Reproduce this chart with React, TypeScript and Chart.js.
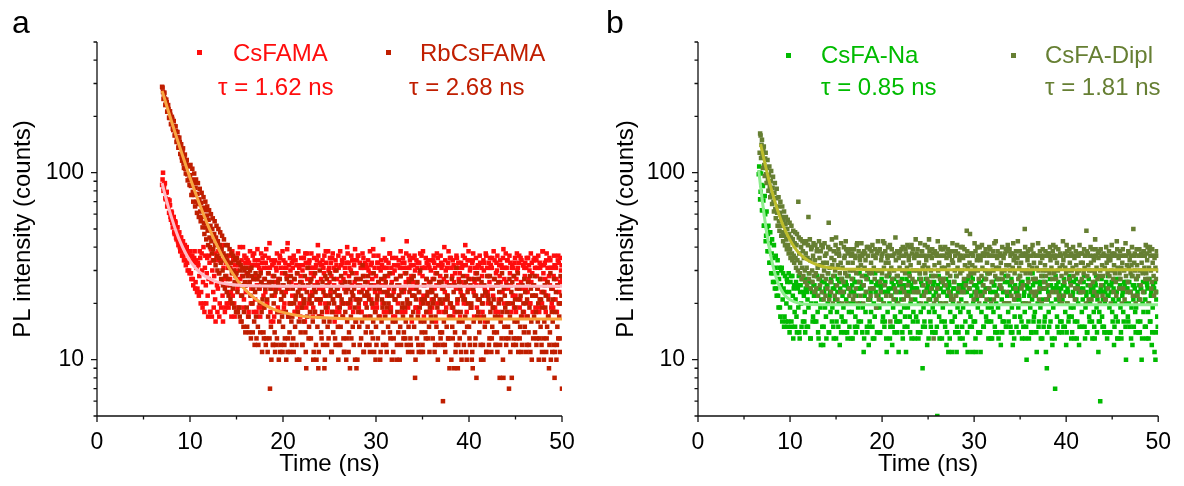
import React, { useEffect, useRef } from "react";
import { Chart, registerables } from "chart.js";

Chart.register(...registerables);

const FONT = "'Liberation Sans', Arial, Helvetica, sans-serif";

// ---------- data ----------
// Each trace is sampled every 0.05 ns; values are stored as two interleaved
// channel lists (even channels start at *_T0, odd channels at *_T0_ODD).
const DT = 0.1;
const CSFAMA_T0 = 7.0;
const CSFAMA_T0_ODD = 7.05;
const RBCSFAMA_T0 = 7.0;
const RBCSFAMA_T0_ODD = 7.05;
const CSFA_NA_T0 = 6.6;
const CSFA_NA_T0_ODD = 6.65;
const CSFA_DIPL_T0 = 6.7;
const CSFA_DIPL_T0_ODD = 6.75;

const CSFAMA = [
  86, 100, 83, 88, 72, 79, 70, 66, 71, 58,
  62, 54, 57, 48, 55, 45, 51, 43, 47, 40,
  45, 38, 43, 36, 41, 34, 39, 33, 37, 30,
  36, 29, 34, 27, 33, 38, 26, 31, 24, 32,
  28, 35, 23, 30, 26, 20, 31, 25, 29, 22,
  27, 33, 18, 26, 30, 23, 28, 21, 34, 25,
  24, 29, 20, 37, 26, 22, 31, 27, 19, 28,
  25, 31, 20, 27, 23, 36, 22, 29, 17, 26,
  30, 24, 19, 33, 27, 22, 28, 40, 21, 25,
  23, 29, 34, 18, 26, 31, 24, 20, 27, 37,
  21, 28, 25, 32, 19, 24, 30, 26, 35, 22,
  27, 23, 39, 20, 29, 25, 31, 16, 24, 28,
  33, 22, 26, 30, 18, 27, 24, 35, 21, 29,
  25, 19, 31, 23, 28, 42, 24, 20, 30, 26,
  22, 34, 27, 18, 25, 29, 23, 32, 20, 28,
  26, 30, 21, 24, 37, 19, 27, 25, 33, 22,
  29, 23, 17, 28, 25, 31, 21, 26, 36, 24,
  20, 27, 32, 24, 29, 22, 38, 25, 19, 30,
  26, 23, 28, 35, 21, 25, 30, 18, 27, 24,
  31, 22, 26, 20, 33, 27, 24, 29, 23, 40,
  24, 28, 19, 30, 25, 22, 34, 26, 21, 29,
  27, 36, 23, 25, 18, 31, 24, 28, 33, 20,
  22, 26, 30, 24, 29, 21, 27, 39, 25, 23,
  28, 19, 33, 26, 23, 30, 25, 20, 31, 27,
  25, 34, 22, 28, 24, 37, 19, 26, 29, 23,
  30, 21, 27, 25, 32, 22, 28, 24, 18, 35,
  23, 29, 26, 43, 20, 27, 31, 24, 28, 22,
  26, 24, 30, 19, 25, 33, 23, 29, 21, 36,
  28, 22, 25, 31, 27, 18, 34, 26, 23, 30,
  21, 27, 36, 24, 29, 25, 20, 32, 26, 28,
  33, 24, 20, 27, 23, 30, 26, 22, 38, 25,
  25, 31, 28, 17, 26, 29, 24, 35, 21, 27,
  29, 23, 26, 32, 22, 25, 41, 20, 28, 24,
  24, 30, 19, 27, 34, 23, 26, 29, 25, 31,
  27, 21, 33, 25, 28, 20, 30, 24, 37, 22,
  23, 28, 26, 31, 24, 35, 22, 27, 19, 29,
  30, 25, 21, 28, 26, 32, 23, 39, 27, 24,
  26, 34, 24, 20, 29, 25, 31, 22, 28, 33,
  22, 27, 30, 25, 36, 21, 26, 24, 32, 18,
  28, 24, 35, 23, 27, 30, 20, 26, 29, 25,
  25, 31, 22, 28, 24, 19, 33, 27, 23, 38,
  29, 23, 27, 34, 26, 22, 28, 25, 31, 20,
  24, 28, 32, 21, 27, 25, 36, 23, 26, 30,
  27,
];
const CSFAMA_ODD = [
  92, 80, 87, 73, 78, 66, 72, 61, 67, 56,
  61, 51, 58, 47, 54, 44, 51, 41, 48, 38,
  45, 36, 43, 34, 41, 32, 40, 30, 38, 29,
  38, 27, 36, 25, 35, 24, 34, 23, 33, 22,
  38, 20, 37, 19, 40, 18, 36, 20, 35, 17,
  36, 18, 39, 17, 34, 19, 37, 16, 35, 18,
  38, 17, 34, 19, 41, 16, 35, 18, 33, 20,
  33, 19, 36, 31, 17, 38, 34, 20, 32, 35,
  18, 37, 32, 40, 16, 34, 31, 19, 36, 33,
  35, 31, 17, 33, 38, 20, 32, 36, 18, 34,
  32, 18, 39, 34, 31, 17, 37, 33, 19, 31,
  36, 33, 20, 31, 35, 42, 18, 34, 32, 16,
  17, 34, 31, 37, 19, 33, 36, 31, 18, 38,
  34, 20, 33, 31, 39, 17, 32, 35, 20, 33,
  31, 36, 18, 34, 32, 19, 38, 31, 17, 35,
  19, 32, 35, 16, 33, 37, 31, 20, 34, 31,
  37, 31, 19, 35, 18, 32, 34, 41, 17, 33,
  32, 17, 34, 31, 36, 20, 33, 18, 38, 31,
  35, 33, 18, 37, 31, 16, 34, 32, 19, 36,
  18, 38, 32, 34, 17, 35, 31, 20, 33, 37,
  33, 31, 20, 36, 34, 18, 32, 39, 16, 34,
  36, 19, 33, 31, 18, 37, 35, 31, 20, 32,
  31, 34, 17, 38, 32, 33, 19, 36, 31, 18,
  20, 33, 36, 31, 17, 34, 32, 44, 18, 35,
  34, 31, 18, 33, 37, 19, 31, 35, 17, 32,
  17, 35, 32, 20, 34, 31, 38, 18, 33, 31,
  33, 18, 37, 31, 19, 36, 34, 32, 16, 35,
  32, 36, 19, 34, 31, 18, 33, 37, 20, 31,
  38, 17, 31, 35, 33, 20, 32, 31, 18, 34,
  19, 34, 33, 31, 16, 37, 35, 18, 32, 36,
  31, 32, 18, 40, 34, 19, 31, 33, 17, 35,
  35, 19, 34, 32, 18, 31, 36, 20, 33, 31,
  17, 33, 31, 36, 20, 35, 32, 18, 34, 38,
  34, 31, 19, 33, 37, 17, 31, 35, 19, 32,
  32, 36, 17, 31, 18, 34, 33, 16, 36, 31,
  20, 33, 35, 32, 31, 19, 38, 34, 18, 33,
  36, 18, 32, 34, 17, 31, 35, 20, 31, 37,
  31, 34, 20, 36, 33, 18, 32, 31, 19, 35,
  18, 37, 31, 33, 19, 35, 34, 17, 32, 31,
  33, 31, 17, 35, 32, 20, 37, 33, 18, 34,
  35, 19, 34, 31, 36, 18, 31, 32, 20, 38,
  32, 33, 18, 37, 31, 17, 35, 34, 19, 31,
  19, 36, 32, 31, 18, 34, 33, 20, 35, 32,
];

const RBCSFAMA = [
  288, 270, 262, 249, 232, 238, 212, 219, 196, 204,
  182, 194, 169, 178, 160, 167, 149, 155, 138, 146,
  136, 121, 130, 112, 119, 105, 113, 98, 108, 92,
  97, 85, 92, 79, 88, 76, 83, 70, 77, 68,
  72, 62, 69, 58, 65, 54, 63, 51, 59, 49,
  56, 45, 52, 43, 50, 39, 47, 41, 45, 36,
  43, 35, 41, 33, 39, 30, 37, 34, 28, 36,
  34, 27, 31, 25, 33, 29, 24, 30, 26, 28,
  29, 23, 33, 19, 30, 25, 22, 28, 18, 26,
  25, 19, 28, 17, 26, 22, 31, 20, 24, 16,
  23, 17, 27, 15, 24, 20, 29, 18, 21, 14,
  19, 24, 13, 21, 17, 26, 7, 15, 22, 12,
  20, 14, 23, 12, 18, 25, 16, 11, 21, 17,
  15, 22, 13, 18, 27, 11, 17, 14, 20, 16,
  17, 13, 20, 15, 22, 10, 18, 16, 24, 14,
  19, 12, 16, 21, 14, 9, 17, 25, 15, 18,
  13, 20, 16, 11, 18, 23, 10, 15, 9, 17,
  21, 14, 18, 12, 16, 10, 19, 27, 15, 13,
  16, 22, 11, 18, 14, 20, 13, 17, 24, 15,
  12, 19, 15, 21, 17, 13, 11, 18, 10, 16,
  20, 14, 9, 17, 23, 15, 12, 19, 16, 9,
  10, 18, 15, 21, 13, 16, 28, 11, 17, 14,
  19, 15, 22, 12, 17, 14, 20, 16, 11, 18,
  15, 21, 13, 17, 24, 11, 16, 19, 14, 20,
  17, 12, 19, 15, 22, 14, 18, 10, 16, 13,
  21, 16, 10, 18, 14, 25, 15, 12, 19, 17,
  14, 19, 16, 12, 20, 15, 23, 13, 17, 11,
  18, 15, 8, 21, 13, 17, 11, 19, 16, 14,
  12, 20, 16, 14, 18, 22, 13, 15, 19, 17,
  16, 13, 21, 11, 17, 15, 19, 12, 26, 14,
  20, 14, 6, 16, 12, 18, 15, 21, 13, 9,
  17, 10, 15, 19, 9, 14, 12, 18, 9, 16,
  13, 18, 10, 16, 21, 14, 17, 11, 15, 20,
  15, 12, 19, 10, 9, 16, 22, 13, 8, 17,
  18, 14, 16, 10, 20, 12, 17, 15, 23, 11,
  16, 21, 13, 18, 11, 15, 19, 14, 17, 12,
  14, 17, 20, 8, 16, 13, 18, 8, 15, 19,
  12, 18, 15, 7, 17, 14, 8, 20, 13, 16,
  19, 13, 16, 11, 24, 15, 17, 12, 18, 14,
  15, 20, 12, 17, 14, 19, 11, 16, 22, 13,
  17, 14, 18, 13, 16, 10, 21, 15, 12, 19,
  13, 16, 19, 11, 15, 17, 9, 14, 10, 18,
  16, 12, 8, 18, 10, 15, 13, 17, 11, 20,
  7,
];
const RBCSFAMA_ODD = [
  285, 248, 268, 230, 246, 212, 230, 197, 213, 182,
  199, 172, 189, 158, 177, 146, 165, 136, 154, 126,
  142, 116, 135, 106, 125, 99, 117, 91, 109, 86,
  110, 76, 105, 70, 99, 66, 92, 61, 88, 58,
  82, 55, 78, 51, 74, 47, 70, 44, 66, 41,
  63, 40, 60, 37, 57, 34, 55, 32, 52, 30,
  50, 29, 48, 27, 46, 25, 44, 24, 41, 23,
  41, 22, 39, 21, 37, 20, 36, 19, 34, 18,
  35, 18, 33, 17, 32, 16, 31, 15, 30, 14,
  31, 15, 29, 14, 30, 13, 28, 14, 27, 12,
  29, 13, 27, 12, 28, 14, 26, 11, 25, 13,
  27, 12, 25, 11, 29, 13, 24, 10, 26, 12,
  28, 11, 24, 13, 26, 10, 27, 12, 23, 11,
  25, 12, 29, 10, 24, 13, 26, 11, 28, 12,
  24, 11, 27, 21, 12, 29, 23, 10, 26, 22,
  12, 25, 20, 28, 11, 23, 31, 13, 21, 26,
  27, 22, 10, 24, 29, 12, 21, 25, 11, 30,
  21, 13, 26, 23, 9, 28, 22, 12, 25, 20,
  29, 24, 11, 21, 27, 23, 12, 30, 22, 10,
  22, 12, 28, 25, 20, 11, 26, 23, 13, 24,
  11, 26, 21, 13, 29, 22, 24, 10, 27, 21,
  25, 20, 12, 27, 23, 32, 11, 22, 26, 12,
  23, 28, 21, 11, 25, 20, 13, 29, 24, 10,
  12, 22, 26, 24, 10, 27, 21, 12, 23, 28,
  26, 11, 23, 20, 29, 13, 25, 22, 11, 24,
  21, 27, 12, 25, 22, 10, 28, 23, 20, 13,
  24, 13, 29, 21, 11, 26, 20, 12, 27, 22,
  28, 22, 10, 24, 26, 12, 23, 30, 11, 21,
  11, 25, 21, 13, 27, 23, 20, 11, 26, 24,
  23, 20, 27, 12, 22, 29, 10, 25, 21, 13,
  26, 12, 24, 21, 11, 28, 22, 13, 25, 20,
  20, 27, 13, 23, 25, 11, 31, 21, 12, 26,
  24, 11, 22, 28, 12, 21, 26, 10, 23, 27,
  13, 25, 20, 11, 24, 27, 12, 22, 29, 21,
  27, 21, 12, 26, 22, 10, 25, 23, 11, 28,
  22, 12, 28, 20, 13, 24, 21, 27, 12, 25,
  11, 26, 23, 12, 21, 29, 10, 24, 22, 13,
  25, 20, 13, 27, 11, 23, 26, 12, 28, 21,
  12, 24, 29, 21, 13, 22, 11, 25, 20, 27,
  23, 11, 21, 26, 12, 28, 24, 10, 22, 25,
  28, 22, 12, 24, 20, 13, 27, 21, 11, 23,
  10, 25, 22, 13, 26, 21, 12, 29, 24, 11,
  21, 27, 11, 23, 12, 25, 20, 13, 28, 22,
];

const CSFA_NA = [
  98, 100, 79, 86, 63, 71, 52, 60, 46, 51,
  47, 38, 42, 33, 37, 29, 35, 26, 31, 24,
  29, 22, 27, 19, 25, 31, 21, 24, 17, 23,
  20, 26, 16, 23, 19, 28, 15, 22, 24, 18,
  21, 17, 25, 19, 14, 23, 20, 27, 16, 22,
  18, 24, 15, 21, 19, 26, 13, 20, 23, 17,
  22, 16, 20, 28, 18, 13, 24, 19, 21, 15,
  12, 23, 19, 17, 25, 20, 14, 22, 18, 26,
  19, 15, 24, 21, 13, 18, 27, 20, 12, 23,
  17, 22, 19, 25, 16, 21, 14, 24, 18, 20,
  23, 18, 13, 20, 26, 17, 22, 15, 19, 24,
  20, 16, 25, 19, 11, 22, 18, 28, 14, 21,
  15, 21, 18, 24, 13, 20, 17, 23, 19, 26,
  22, 19, 14, 21, 25, 17, 20, 16, 23, 11,
  18, 24, 20, 15, 22, 12, 19, 27, 17, 21,
  20, 16, 11, 23, 18, 21, 14, 25, 19, 17,
  11, 22, 19, 26, 17, 20, 13, 23, 18, 24,
  21, 17, 24, 14, 20, 29, 18, 22, 9, 19,
  16, 23, 20, 12, 25, 18, 21, 15, 24, 19,
  22, 18, 14, 21, 5, 24, 17, 20, 26, 13,
  19, 23, 16, 20, 12, 22, 11, 25, 18, 21,
  11, 20, 24, 17, 22, 11, 19, 14, 23, 18,
  21, 15, 19, 26, 12, 20, 23, 11, 18, 24,
  17, 22, 11, 20, 25, 16, 11, 21, 19, 14,
  23, 11, 18, 22, 15, 27, 20, 17, 24, 19,
  16, 21, 13, 19, 23, 18, 25, 14, 20, 22,
  19, 24, 17, 12, 21, 16, 23, 20, 28, 15,
  22, 18, 20, 25, 14, 19, 12, 24, 17, 21,
  15, 23, 19, 21, 17, 26, 13, 20, 22, 18,
  20, 10, 24, 16, 22, 19, 14, 21, 25, 17,
  18, 22, 11, 20, 15, 23, 19, 26, 13, 21,
  24, 17, 11, 9, 21, 18, 25, 16, 20, 12,
  19, 23, 7, 21, 17, 24, 14, 20, 22, 16,
  21, 15, 25, 18, 12, 20, 23, 17, 27, 19,
  17, 22, 19, 13, 24, 21, 16, 20, 12, 23,
  23, 18, 21, 26, 15, 19, 22, 14, 20, 17,
  20, 24, 16, 22, 18, 13, 25, 19, 21, 11,
  18, 6, 23, 17, 21, 15, 20, 24, 14, 22,
  22, 19, 14, 25, 18, 21, 12, 20, 17, 23,
  16, 21, 24, 19, 13, 22, 18, 26, 20, 10,
  24, 17, 20, 15, 23, 19, 12, 21, 25, 18,
  19, 22, 16, 21, 14, 24, 10, 20, 18, 23,
  21, 13, 25, 18, 20, 16, 22, 12, 19, 24,
  11, 10, 21, 17, 23,
];
const CSFA_NA_ODD = [
  108, 72, 99, 63, 85, 52, 75, 43, 62, 38,
  52, 33, 48, 29, 44, 26, 41, 24, 36, 22,
  34, 19, 31, 17, 30, 16, 29, 15, 28, 16,
  27, 15, 29, 14, 26, 16, 28, 13, 25, 15,
  26, 14, 24, 28, 13, 25, 15, 27, 23, 16,
  14, 27, 23, 15, 29, 24, 13, 26, 16, 25,
  25, 23, 16, 28, 14, 24, 27, 12, 26, 23,
  15, 26, 24, 13, 25, 29, 14, 23, 27, 16,
  24, 13, 28, 25, 16, 23, 15, 26, 24, 14,
  27, 16, 23, 14, 26, 25, 13, 28, 15, 24,
  13, 25, 27, 23, 15, 14, 26, 24, 16, 29,
  26, 24, 14, 25, 13, 28, 23, 15, 27, 12,
  16, 23, 26, 15, 24, 13, 29, 25, 14, 26,
  25, 14, 24, 27, 16, 23, 15, 26, 13, 28,
  23, 28, 13, 24, 26, 15, 25, 14, 23, 16,
  14, 26, 25, 16, 23, 27, 13, 24, 15, 25,
  27, 15, 23, 29, 14, 25, 24, 16, 26, 13,
  24, 23, 16, 13, 27, 14, 26, 25, 15, 23,
  15, 27, 24, 26, 13, 23, 16, 28, 14, 25,
  26, 14, 23, 15, 25, 28, 13, 24, 16, 27,
  23, 25, 15, 27, 14, 24, 26, 13, 23, 16,
  16, 24, 26, 14, 28, 15, 23, 25, 13, 24,
  25, 13, 24, 23, 16, 26, 14, 27, 24, 15,
  28, 15, 27, 16, 23, 13, 25, 24, 14, 26,
  14, 26, 23, 25, 15, 27, 24, 16, 29, 13,
  24, 23, 16, 13, 26, 25, 15, 23, 27, 14,
  13, 27, 25, 24, 14, 23, 16, 26, 15, 28,
  26, 16, 23, 15, 27, 14, 24, 13, 25, 23,
  23, 24, 14, 28, 25, 16, 26, 15, 23, 13,
  15, 25, 27, 13, 24, 23, 14, 29, 16, 26,
  27, 14, 23, 26, 16, 25, 13, 24, 28, 15,
  16, 26, 24, 14, 23, 15, 27, 25, 13, 24,
  24, 13, 28, 25, 15, 26, 23, 16, 24, 14,
  25, 27, 15, 23, 14, 24, 16, 28, 26, 13,
  14, 23, 26, 16, 27, 13, 25, 23, 15, 24,
  26, 15, 24, 28, 13, 23, 14, 25, 27, 16,
  23, 25, 13, 24, 15, 26, 28, 14, 23, 16,
  16, 24, 27, 15, 25, 14, 23, 26, 13, 28,
  25, 14, 23, 26, 16, 24, 15, 27, 23, 13,
  13, 27, 25, 14, 24, 23, 16, 25, 15, 26,
  24, 16, 26, 23, 13, 28, 25, 15, 24, 14,
  27, 23, 14, 25, 16, 24, 13, 26, 23, 15,
  15, 26, 24, 13, 27, 16, 23, 14, 25, 24,
  26, 14, 23, 15,
];

const CSFA_DIPL = [
  128, 158, 141, 124, 133, 110, 119, 98, 106, 92,
  97, 84, 90, 76, 83, 70, 78, 64, 73, 61,
  66, 55, 61, 52, 58, 48, 56, 46, 53, 44,
  50, 41, 47, 39, 45, 37, 44, 36, 42, 35,
  41, 34, 70, 37, 33, 40, 31, 38, 35, 30,
  37, 31, 35, 58, 29, 34, 39, 30, 36, 28,
  34, 29, 38, 31, 27, 35, 32, 41, 28, 33,
  30, 36, 27, 33, 29, 54, 31, 26, 35, 32,
  28, 34, 30, 45, 25, 32, 37, 29, 33, 27,
  31, 26, 35, 29, 39, 28, 33, 24, 30, 36,
  27, 33, 30, 22, 35, 29, 42, 31, 26, 34,
  32, 28, 37, 25, 31, 34, 27, 30, 40, 29,
  24, 33, 29, 36, 31, 27, 35, 22, 30, 38,
  30, 26, 34, 29, 43, 31, 25, 33, 28, 35,
  33, 29, 16, 31, 27, 36, 30, 24, 34, 28,
  28, 35, 31, 26, 39, 30, 33, 23, 29, 37,
  31, 25, 34, 28, 32, 41, 27, 30, 35, 26,
  36, 30, 23, 33, 29, 27, 38, 31, 25, 32,
  29, 34, 27, 31, 44, 26, 30, 35, 28, 13,
  32, 28, 36, 24, 30, 33, 27, 39, 31, 26,
  27, 31, 25, 35, 29, 32, 37, 28, 22, 34,
  33, 26, 30, 38, 28, 31, 24, 34, 29, 36,
  30, 35, 27, 32, 25, 49, 31, 28, 33, 29,
  26, 32, 36, 29, 31, 23, 34, 30, 27, 40,
  34, 28, 31, 25, 37, 30, 27, 33, 29, 24,
  29, 36, 26, 32, 30, 42, 28, 31, 35, 27,
  31, 25, 33, 29, 27, 35, 30, 20, 32, 38,
  28, 32, 30, 37, 26, 31, 34, 29, 24, 33,
  35, 27, 31, 28, 33, 30, 25, 36, 50, 29,
  30, 34, 26, 32, 29, 39, 31, 27, 33, 23,
  27, 31, 36, 30, 24, 33, 28, 35, 30, 26,
  32, 28, 30, 25, 37, 29, 34, 31, 27, 41,
  29, 35, 27, 33, 30, 22, 31, 36, 28, 32,
  34, 26, 31, 29, 38, 30, 27, 33, 25, 30,
  31, 28, 35, 24, 32, 29, 37, 30, 26, 33,
  27, 33, 29, 31, 36, 49, 28, 32, 30, 25,
  33, 30, 26, 34, 29, 39, 31, 27, 35, 28,
  30, 25, 32, 28, 36, 31, 21, 33, 29, 34,
  28, 34, 30, 37, 27, 32, 29, 26, 43, 31,
  35, 29, 27, 31, 33, 24, 30, 36, 28, 32,
  26, 31, 34, 29, 32, 28, 50, 33, 30, 27,
  32, 28, 36, 30, 25, 33, 29, 38, 31, 27,
  29, 34, 27, 31, 40, 30, 26, 33, 28, 35,
  31, 27, 36, 30,
];
const CSFA_DIPL_ODD = [
  162, 120, 150, 106, 138, 96, 128, 88, 117, 80,
  108, 74, 102, 68, 95, 62, 88, 57, 82, 52,
  74, 49, 70, 46, 66, 43, 62, 41, 58, 39,
  56, 37, 54, 35, 52, 34, 49, 33, 48, 31,
  47, 30, 45, 29, 44, 27, 43, 28, 42, 26,
  43, 25, 41, 27, 44, 24, 40, 26, 42, 23,
  41, 24, 39, 22, 43, 25, 38, 23, 40, 21,
  42, 22, 37, 24, 40, 21, 39, 23, 44, 20,
  38, 22, 41, 37, 21, 39, 36, 23, 42, 20,
  23, 40, 36, 43, 20, 38, 37, 22, 39, 36,
  37, 21, 39, 36, 24, 41, 20, 38, 36, 22,
  42, 36, 20, 38, 37, 23, 40, 36, 21, 39,
  22, 38, 41, 24, 36, 39, 19, 37, 43, 21,
  39, 23, 36, 37, 20, 42, 38, 22, 36, 40,
  36, 41, 22, 39, 36, 21, 37, 45, 23, 38,
  20, 37, 38, 36, 24, 40, 21, 36, 39, 22,
  41, 22, 36, 40, 21, 37, 39, 23, 36, 44,
  37, 39, 23, 36, 42, 20, 38, 36, 22, 41,
  23, 36, 40, 21, 38, 36, 24, 39, 37, 20,
  38, 21, 37, 43, 22, 36, 40, 20, 36, 39,
  36, 40, 20, 37, 39, 23, 36, 38, 21, 42,
  21, 38, 36, 22, 41, 37, 20, 36, 40, 23,
  40, 23, 39, 36, 20, 38, 36, 24, 47, 37,
  37, 36, 21, 42, 38, 22, 40, 36, 20, 36,
  22, 41, 37, 36, 23, 39, 21, 37, 36, 40,
  39, 20, 36, 38, 21, 36, 43, 22, 38, 36,
  36, 37, 24, 40, 36, 20, 37, 39, 23, 41,
  20, 39, 36, 22, 37, 42, 21, 36, 38, 22,
  43, 22, 38, 36, 24, 37, 36, 20, 40, 37,
  36, 38, 20, 39, 36, 23, 41, 37, 22, 36,
  23, 36, 42, 21, 38, 36, 20, 39, 36, 24,
  38, 21, 36, 37, 22, 40, 36, 23, 38, 36,
  36, 40, 23, 36, 39, 21, 37, 36, 20, 43,
  22, 37, 36, 41, 20, 36, 39, 22, 37, 36,
  40, 36, 21, 38, 36, 24, 36, 41, 23, 37,
  37, 23, 39, 36, 20, 38, 37, 21, 36, 40,
  21, 39, 36, 23, 44, 36, 22, 37, 38, 20,
  39, 36, 22, 37, 36, 21, 40, 36, 24, 38,
  36, 20, 41, 36, 23, 37, 36, 22, 39, 36,
  24, 38, 36, 20, 39, 36, 21, 42, 36, 23,
  38, 37, 23, 36, 40, 22, 36, 37, 20, 39,
  22, 36, 39, 21, 37, 36, 23, 38, 36, 41,
  37, 40, 20, 38, 36, 24, 39, 36, 22, 36,
  23, 38, 36,
];

// fitted decay curves
const FIT_CSFAMA_T = [7, 7.25, 7.5, 7.75, 8, 8.5, 9, 9.5, 10, 10.5, 11, 11.5, 12, 13, 14, 15, 16, 18, 20, 25, 30, 40, 50];
const FIT_CSFAMA_Y = [88, 78.6, 70.5, 63.7, 57.9, 48.7, 42.1, 37.3, 33.8, 31.3, 29.5, 28.2, 27.2, 26.0, 25.4, 25.1, 24.9, 24.75, 24.7, 24.7, 24.7, 24.7, 24.7];
const FIT_RB_T = [7, 7.5, 8, 8.5, 9, 9.5, 10, 10.5, 11, 11.5, 12, 12.5, 13, 13.5, 14, 15, 16, 17, 18, 19, 20, 22, 24, 26, 30, 40, 50];
const FIT_RB_Y = [274, 227.3, 189.1, 157.8, 132.2, 111.2, 94.1, 80.0, 68.5, 59.1, 51.3, 45.0, 39.9, 35.6, 32.2, 27.0, 23.5, 21.2, 19.7, 18.6, 17.9, 17.1, 16.8, 16.6, 16.5, 16.5, 16.5];
const FIT_NA_T = [6.6, 6.8, 7.0, 7.25, 7.5, 7.75, 8, 8.5, 9, 9.5, 10, 11, 12, 14, 20, 30, 40, 50];
const FIT_NA_Y = [102.5, 84.2, 69.9, 56.4, 46.6, 39.4, 34.1, 27.4, 23.8, 21.9, 20.9, 20.0, 19.8, 19.7, 19.7, 19.7, 19.7, 19.7];
const FIT_DIPL_T = [6.8, 7.0, 7.5, 8, 8.5, 9, 9.5, 10, 10.5, 11, 11.5, 12, 13, 14, 15, 16, 18, 20, 30, 40, 50];
const FIT_DIPL_Y = [142.3, 128.3, 100.5, 80.6, 66.4, 56.1, 48.8, 43.6, 39.8, 37.1, 35.2, 33.8, 32.1, 31.2, 30.8, 30.5, 30.4, 30.3, 30.3, 30.3, 30.3];

const Y_TICKS = [5, 6, 7, 8, 9, 10, 20, 30, 40, 50, 60, 70, 80, 90, 100, 200, 300, 400, 500];
const Y_LABELED = [10, 100];
const X_MIN = 0;
const X_MAX = 50;
const X_STEP = 5;
const X_LABEL_EVERY = 10;

// ---------- styles ----------
const C_CSFAMA = "#FF0D0D";
const C_RB = "#C01E00";
const C_FIT_CSFAMA = "#FFBCC6";
const C_FIT_RB = "#F8A540";
const C_NA = "#00BB00";
const C_DIPL = "#667F33";
const C_FIT_NA = "#8FEE8F";
const C_FIT_DIPL = "#BDBD2B";
const AXIS_COLOR = "#111";

function buildPoints(parts: { t0: number; values: number[] }[]) {
  const pts: { x: number; y: number }[] = [];
  parts.forEach((p) =>
    p.values.forEach((v, i) => pts.push({ x: Math.round((p.t0 + i * DT) * 100) / 100, y: v }))
  );
  return pts.sort((a, b) => a.x - b.x);
}
function buildLine(ts: number[], ys: number[]) {
  return ts.map((t, i) => ({ x: t, y: ys[i] }));
}

const axesPlugin = {
  id: "axesTicks",
  afterDatasetsDraw(chart: any) {
    const { ctx, chartArea } = chart;
    const { left, right, top, bottom } = chartArea;
    const xs = chart.scales.x;
    const ys = chart.scales.y;
    ctx.save();
    ctx.strokeStyle = AXIS_COLOR;
    ctx.lineWidth = 1.3;
    ctx.beginPath();
    ctx.moveTo(left, top);
    ctx.lineTo(left, bottom);
    ctx.lineTo(right, bottom);
    xs.ticks.forEach((t: any) => {
      const p = xs.getPixelForValue(t.value);
      const len = t.value % X_LABEL_EVERY === 0 ? 6 : 3.5;
      ctx.moveTo(p, bottom);
      ctx.lineTo(p, bottom + len);
    });
    ys.ticks.forEach((t: any) => {
      const p = ys.getPixelForValue(t.value);
      const len = Y_LABELED.includes(t.value) ? 6 : 3.5;
      ctx.moveTo(left, p);
      ctx.lineTo(left - len, p);
    });
    ctx.stroke();
    ctx.restore();
  },
};

type Series = { parts: { t0: number; values: number[] }[]; color: string };
type Fit = { t: number[]; y: number[]; color: string };
type PanelCfg = {
  left: number;
  series: Series[];
  fits: Fit[];
  yAxisWidth: number;
  xAxisHeight: number;
  rightPad: number;
  yTitlePad: number;
};

function Panel({ cfg }: { cfg: PanelCfg }) {
  const ref = useRef<HTMLCanvasElement | null>(null);
  useEffect(() => {
    if (!ref.current) return;
    const datasets: any[] = [
      ...cfg.fits.map((f) => ({
        data: buildLine(f.t, f.y),
        showLine: true,
        borderColor: f.color,
        backgroundColor: f.color,
        borderWidth: 3,
        pointRadius: 0,
        cubicInterpolationMode: "monotone",
        fill: false,
        order: 0,
      })),
      ...cfg.series.map((s, i) => ({
        data: buildPoints(s.parts),
        showLine: false,
        pointStyle: "rect",
        pointRadius: 3.2,
        pointBorderWidth: 0,
        pointBackgroundColor: s.color,
        backgroundColor: s.color,
        borderColor: s.color,
        order: cfg.series.length - i,
      })),
    ];
    const chart = new Chart(ref.current, {
      type: "scatter",
      data: { datasets },
      options: {
        responsive: false,
        animation: false,
        events: [],
        layout: { padding: { left: 0, top: 42, right: cfg.rightPad, bottom: 0 } },
        plugins: { legend: { display: false }, tooltip: { enabled: false } },
        scales: {
          x: {
            type: "linear",
            min: X_MIN,
            max: X_MAX,
            grid: { display: false, drawTicks: false },
            border: { display: false },
            ticks: {
              stepSize: X_STEP,
              autoSkip: false,
              maxRotation: 0,
              padding: 13,
              color: "#000",
              font: { family: FONT, size: 23 },
              callback: (v: any) => (Number(v) % X_LABEL_EVERY === 0 ? String(v) : ""),
            },
            title: {
              display: true,
              text: "Time (ns)",
              color: "#000",
              font: { family: FONT, size: 24 },
              padding: { top: 0, bottom: 7.3 },
            },
            afterFit: (s: any) => {
              s.height = cfg.xAxisHeight;
            },
          },
          y: {
            type: "logarithmic",
            min: 5,
            max: 500,
            grid: { display: false, drawTicks: false },
            border: { display: false },
            afterBuildTicks: (s: any) => {
              s.ticks = Y_TICKS.map((v) => ({ value: v }));
            },
            ticks: {
              autoSkip: false,
              padding: 13,
              color: "#000",
              font: { family: FONT, size: 23 },
              callback: (v: any) => (Y_LABELED.includes(Number(v)) ? String(v) : ""),
            },
            title: {
              display: true,
              text: "PL intensity (counts)",
              color: "#000",
              font: { family: FONT, size: 24 },
              padding: { top: cfg.yTitlePad, bottom: 0 },
            },
            afterFit: (s: any) => {
              s.width = cfg.yAxisWidth;
            },
          },
        },
      } as any,
      plugins: [axesPlugin],
    });
    return () => chart.destroy();
  }, []);
  return (
    <canvas
      ref={ref}
      width={592}
      height={486}
      style={{ position: "absolute", left: cfg.left, top: 0, width: 592, height: 486 }}
    />
  );
}

const PANEL_A: PanelCfg = {
  left: 0,
  series: [
    { parts: [{ t0: CSFAMA_T0, values: CSFAMA }, { t0: CSFAMA_T0_ODD, values: CSFAMA_ODD }], color: C_CSFAMA },
    { parts: [{ t0: RBCSFAMA_T0, values: RBCSFAMA }, { t0: RBCSFAMA_T0_ODD, values: RBCSFAMA_ODD }], color: C_RB },
  ],
  fits: [
    { t: FIT_CSFAMA_T, y: FIT_CSFAMA_Y, color: C_FIT_CSFAMA },
    { t: FIT_RB_T, y: FIT_RB_Y, color: C_FIT_RB },
  ],
  yAxisWidth: 97,
  xAxisHeight: 70,
  rightPad: 30,
  yTitlePad: 8.6,
};

const PANEL_B: PanelCfg = {
  left: 592,
  series: [
    { parts: [{ t0: CSFA_NA_T0, values: CSFA_NA }, { t0: CSFA_NA_T0_ODD, values: CSFA_NA_ODD }], color: C_NA },
    { parts: [{ t0: CSFA_DIPL_T0, values: CSFA_DIPL }, { t0: CSFA_DIPL_T0_ODD, values: CSFA_DIPL_ODD }], color: C_DIPL },
  ],
  fits: [
    { t: FIT_NA_T, y: FIT_NA_Y, color: C_FIT_NA },
    { t: FIT_DIPL_T, y: FIT_DIPL_Y, color: C_FIT_DIPL },
  ],
  yAxisWidth: 106,
  xAxisHeight: 70,
  rightPad: 22,
  yTitlePad: 19.6,
};

function Txt({ x, y, size, color, children }: any) {
  return (
    <div
      style={{
        position: "absolute",
        left: x,
        top: y,
        fontFamily: FONT,
        fontSize: size,
        lineHeight: `${size}px`,
        color,
        whiteSpace: "nowrap",
      }}
    >
      {children}
    </div>
  );
}

function Marker({ x, y, color }: any) {
  return (
    <div
      style={{ position: "absolute", left: x - 2.5, top: y - 2.5, width: 5, height: 5, background: color }}
    />
  );
}

export default function App() {
  return (
    <div style={{ position: "absolute", left: 0, top: 0, width: 1184, height: 486, background: "#fff", overflow: "hidden" }}>
      <Panel cfg={PANEL_A} />
      <Panel cfg={PANEL_B} />
      <Txt x={12} y={6} size={32} color="#000">a</Txt>
      <Txt x={606} y={6} size={32} color="#000">b</Txt>

      <Marker x={199} y={52} color={C_CSFAMA} />
      <Txt x={233} y={41.4} size={24} color={C_CSFAMA}>CsFAMA</Txt>
      <Txt x={218} y={75.4} size={24} color={C_CSFAMA}>τ = 1.62 ns</Txt>
      <Marker x={388} y={52} color={C_RB} />
      <Txt x={420} y={41.4} size={24} color={C_RB}>RbCsFAMA</Txt>
      <Txt x={409} y={75.4} size={24} color={C_RB}>τ = 2.68 ns</Txt>

      <Marker x={788} y={55} color={C_NA} />
      <Txt x={821} y={43} size={24} color={C_NA}>CsFA-Na</Txt>
      <Txt x={821} y={75.4} size={24} color={C_NA}>τ = 0.85 ns</Txt>
      <Marker x={1013} y={55} color={C_DIPL} />
      <Txt x={1045} y={43} size={24} color={C_DIPL}>CsFA-Dipl</Txt>
      <Txt x={1045} y={75.4} size={24} color={C_DIPL}>τ = 1.81 ns</Txt>
    </div>
  );
}
